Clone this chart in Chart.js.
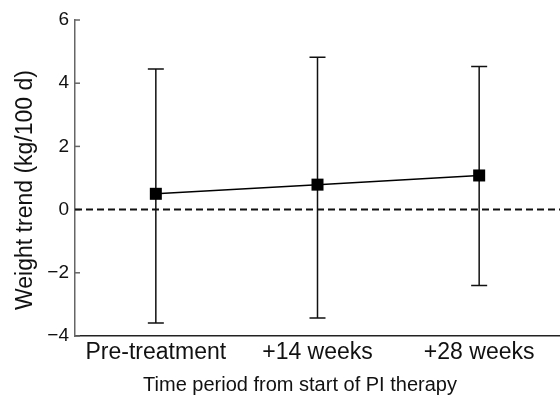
<!DOCTYPE html>
<html>
<head>
<meta charset="utf-8">
<script src="https://cdn.jsdelivr.net/npm/chart.js@4"></script>
<style>
  html, body { margin: 0; padding: 0; background: #fff; overflow: hidden; }
</style>
</head>
<body>
<canvas id="trendChart" width="560" height="398"></canvas>
<script>
// Data
const periods = ['Pre-treatment', '+14 weeks', '+28 weeks'];
const meanTrend = [0.5, 0.79, 1.08];
const upperBar = [4.45, 4.82, 4.53];
const lowerBar = [-3.59, -3.43, -2.4];
const yTicks = [-4, -2, 0, 2, 4, 6];

const fontFamily = 'Arial, "Liberation Sans", Helvetica, sans-serif';
const xTitle = 'Time period from start of PI therapy';
const yTitle = 'Weight trend (kg/100 d)';

// Error bars, zero line, inward y ticks, markers and axis titles
const errorBars = {
    id: 'errorBars',
    afterDraw(chart) {
        const c = chart.ctx;
        const xs = chart.scales.x;
        const ys = chart.scales.y;
        const area = chart.chartArea;

        // inward tick marks on the y axis
        c.save();
        c.strokeStyle = '#666';
        c.lineWidth = 1.5;
        yTicks.forEach(v => {
            const y = ys.getPixelForValue(v);
            c.beginPath();
            c.moveTo(area.left, y);
            c.lineTo(area.left + 5, y);
            c.stroke();
        });
        c.restore();

        // dashed zero line
        c.save();
        c.strokeStyle = '#111';
        c.lineWidth = 2;
        c.setLineDash([7, 4]);
        const y0 = ys.getPixelForValue(0);
        c.beginPath();
        c.moveTo(area.left, y0);
        c.lineTo(area.right, y0);
        c.stroke();
        c.restore();

        c.save();
        c.strokeStyle = '#111';
        c.lineWidth = 1.5;
        periods.forEach((p, i) => {
            const x = xs.getPixelForValue(i);
            const top = ys.getPixelForValue(upperBar[i]);
            const bot = ys.getPixelForValue(lowerBar[i]);
            c.beginPath();
            c.moveTo(x, top);
            c.lineTo(x, bot);
            c.moveTo(x - 8, top);
            c.lineTo(x + 8, top);
            c.moveTo(x - 8, bot);
            c.lineTo(x + 8, bot);
            c.stroke();
        });
        c.restore();

        // square markers on top of the bars
        const meta = chart.getDatasetMeta(0);
        c.save();
        c.fillStyle = '#000';
        meta.data.forEach(pt => {
            c.fillRect(pt.x - 6, pt.y - 6, 12, 12);
        });
        c.restore();

        // axis titles
        c.save();
        c.fillStyle = '#111';
        c.font = '20px ' + fontFamily;
        c.textAlign = 'center';
        c.textBaseline = 'alphabetic';
        c.fillText(xTitle, 300, 391);
        c.translate(32, 190);
        c.rotate(-Math.PI / 2);
        c.font = '23px ' + fontFamily;
        c.fillText(yTitle, 0, 0);
        c.restore();
    }
};

const ctx = document.getElementById('trendChart').getContext('2d');
const trendChart = new Chart(ctx, {
    type: 'line',
    data: {
        labels: periods,
        datasets: [{
            data: meanTrend,
            borderColor: '#000',
            borderWidth: 1.5,
            pointRadius: 0,
            pointHoverRadius: 0,
            pointHitRadius: 0,
            tension: 0
        }]
    },
    options: {
        responsive: false,
        animation: false,
        layout: {
            padding: { top: 20, right: 0, left: 0, bottom: 0 }
        },
        scales: {
            x: {
                type: 'category',
                offset: true,
                grid: { display: false, drawTicks: false },
                border: { display: true, color: '#222', width: 1.5 },
                ticks: {
                    color: '#111',
                    font: { family: fontFamily, size: 23 },
                    padding: 3,
                    maxRotation: 0,
                    autoSkip: false
                },
                afterFit(scale) { scale.height = 62; }
            },
            y: {
                min: -4,
                max: 6,
                afterBuildTicks(scale) {
                    scale.ticks = yTicks.map(v => ({ value: v }));
                },
                grid: { display: false, drawTicks: false },
                border: { display: true, color: '#666', width: 1.5 },
                ticks: {
                    color: '#111',
                    font: { family: fontFamily, size: 19 },
                    padding: 6,
                    callback: v => (v < 0 ? '\u2212' + Math.abs(v) : String(v))
                },
                afterFit(scale) { scale.width = 75; }
            }
        },
        plugins: {
            legend: { display: false },
            tooltip: { enabled: false }
        }
    },
    plugins: [errorBars]
});
</script>
</body>
</html>
